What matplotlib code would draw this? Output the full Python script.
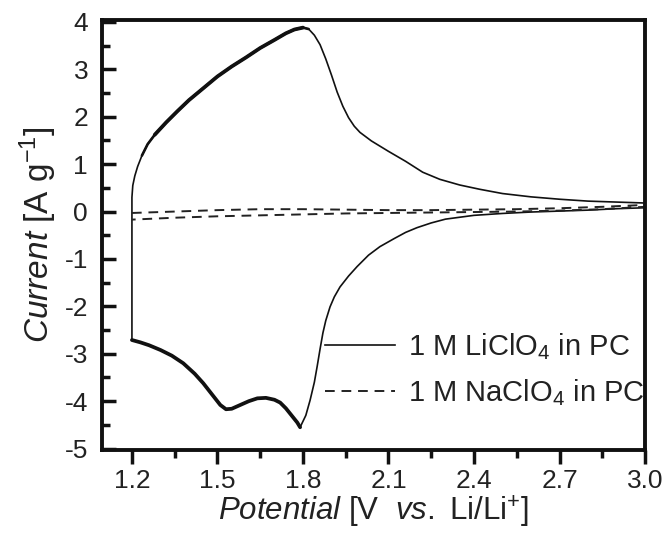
import matplotlib
matplotlib.use("Agg")
import numpy as np
import matplotlib.pyplot as plt
from matplotlib.ticker import MultipleLocator

# ------------------------------------------
# Cyclic voltammetry data
# ------------------------------------------

# 1 M LiClO4 in PC, anodic sweep (1.2 V -> 3.0 V)
li_ox_v = [1.200, 1.200, 1.203, 1.210, 1.220, 1.235, 1.255, 1.28, 1.32, 1.36,
           1.40, 1.45, 1.50, 1.55, 1.60, 1.65, 1.70, 1.74, 1.77, 1.80,
           1.82, 1.84, 1.86, 1.88, 1.90, 1.92, 1.94, 1.96, 1.98, 2.00,
           2.04, 2.10, 2.16, 2.22, 2.28, 2.35, 2.42, 2.50, 2.60, 2.70,
           2.80, 2.90, 3.00]
li_ox_i = [-2.71, 0.30, 0.55, 0.75, 0.95, 1.18, 1.42, 1.62, 1.88, 2.12,
           2.35, 2.60, 2.85, 3.06, 3.25, 3.45, 3.62, 3.76, 3.84, 3.88,
           3.85, 3.72, 3.52, 3.22, 2.88, 2.52, 2.22, 1.98, 1.80, 1.67,
           1.49, 1.27, 1.06, 0.83, 0.68, 0.56, 0.47, 0.38, 0.31, 0.26,
           0.22, 0.20, 0.18]

# 1 M LiClO4 in PC, cathodic sweep (3.0 V -> 1.2 V)
li_red_v = [3.00, 2.90, 2.80, 2.70, 2.60, 2.50, 2.40, 2.30, 2.25, 2.20,
            2.16, 2.12, 2.07, 2.03, 1.99, 1.96, 1.93, 1.91, 1.895, 1.88,
            1.87, 1.86, 1.85, 1.84, 1.825, 1.81, 1.79, 1.78, 1.76, 1.74,
            1.72, 1.70, 1.67, 1.64, 1.61, 1.58, 1.55, 1.53, 1.51, 1.48,
            1.45, 1.42, 1.38, 1.34, 1.30, 1.26, 1.23, 1.20]
li_red_i = [0.08, 0.06, 0.03, 0.01, -0.01, -0.04, -0.08, -0.16, -0.24, -0.34,
            -0.44, -0.57, -0.74, -0.92, -1.16, -1.36, -1.59, -1.80, -2.01, -2.30,
            -2.56, -2.90, -3.26, -3.60, -3.98, -4.30, -4.55, -4.45, -4.30, -4.15,
            -4.03, -3.97, -3.93, -3.94, -4.00, -4.08, -4.16, -4.17, -4.08, -3.85,
            -3.62, -3.42, -3.20, -3.04, -2.92, -2.82, -2.76, -2.71]

# 1 M NaClO4 in PC
na_ox_v = [1.20, 1.35, 1.50, 1.65, 1.80, 1.95, 2.10, 2.25, 2.40, 2.55, 2.70, 2.85, 3.00]
na_ox_i = [-0.03, 0.00, 0.03, 0.05, 0.05, 0.04, 0.03, 0.03, 0.04, 0.05, 0.07, 0.10, 0.14]
na_red_v = [3.00, 2.85, 2.70, 2.55, 2.40, 2.25, 2.10, 1.95, 1.80, 1.65, 1.50, 1.35, 1.20]
na_red_i = [0.10, 0.05, 0.02, 0.00, -0.01, -0.02, -0.03, -0.04, -0.06, -0.08, -0.10, -0.13, -0.17]

x_ticks = [1.2, 1.5, 1.8, 2.1, 2.4, 2.7, 3.0]
y_ticks = [4, 3, 2, 1, 0, -1, -2, -3, -4, -5]

# ------------------------------------------
# Style
# ------------------------------------------

plt.rcParams["font.family"] = ["Liberation Sans", "DejaVu Sans"]
plt.rcParams["mathtext.fontset"] = "custom"
plt.rcParams["mathtext.rm"] = "Liberation Sans"
plt.rcParams["mathtext.it"] = "Liberation Sans:italic"
plt.rcParams["font.size"] = 19
plt.rcParams["text.color"] = "#222222"
plt.rcParams["axes.labelcolor"] = "#222222"
plt.rcParams["xtick.color"] = "#111111"
plt.rcParams["ytick.color"] = "#111111"
plt.rcParams["xtick.labelcolor"] = "#222222"
plt.rcParams["ytick.labelcolor"] = "#222222"

fig = plt.figure(figsize=(6.68, 5.37), dpi=100)
ax = fig.add_axes([0.1527, 0.162, 0.8129, 0.8007])

# ------------------------------------------
# Curves
# ------------------------------------------

li_v = np.array(li_ox_v + li_red_v)
li_i = np.array(li_ox_i + li_red_i)
line_li, = ax.plot(li_v, li_i, color="#111111", lw=1.2, solid_joinstyle="round")

# noisier low-potential part of the loop looks heavier
ox_v = np.array(li_ox_v)
ox_i = np.array(li_ox_i)
m = (ox_v >= 1.235) & (ox_v <= 1.82) & (ox_i > 0)
ax.plot(ox_v[m], ox_i[m], color="#111111", lw=1.9, solid_capstyle="round")
m = (ox_v >= 1.28) & (ox_v <= 1.80) & (ox_i > 0)
ax.plot(ox_v[m], ox_i[m], color="#111111", lw=2.7, solid_capstyle="round")
red_v = np.array(li_red_v)
red_i = np.array(li_red_i)
m = red_v <= 1.79
ax.plot(red_v[m], red_i[m], color="#111111", lw=2.7, solid_capstyle="round")

na_v = np.array(na_ox_v + na_red_v)
na_i = np.array(na_ox_i + na_red_i)
line_na, = ax.plot(na_v, na_i, color="#222222", lw=1.4, dashes=(5, 3.5))

# ------------------------------------------
# Axes
# ------------------------------------------

ax.set_xlim(1.095, 3.0)
ax.set_ylim(-5.03, 4.04)

ax.set_xticks(x_ticks)
ax.set_xticklabels([f"{t:.1f}" for t in x_ticks])
ax.xaxis.set_minor_locator(MultipleLocator(0.15))
ax.set_yticks(y_ticks)
ax.set_yticklabels([str(t) for t in y_ticks])
ax.yaxis.set_minor_locator(MultipleLocator(0.5))

ax.tick_params(axis="x", which="major", direction="out", length=10, width=2.5, pad=4)
ax.tick_params(axis="x", which="minor", direction="out", length=6, width=2.5)
ax.tick_params(axis="y", which="major", direction="in", length=10, width=2.5, pad=10)
ax.tick_params(axis="y", which="minor", direction="in", length=6, width=2.5)

for s in ax.spines.values():
    s.set_linewidth(2.8)
    s.set_color("#111111")

ax.set_xlabel(r"$\it{Potential}$ [V  $\it{vs.}$ Li/Li$^{+}$]", fontsize=22.5, labelpad=0)
ax.set_ylabel(r"$\it{Current}$ [A g$^{-1}$]", fontsize=24, labelpad=4)

ax.legend([line_li, line_na],
          [r"1 M LiClO$_4$ in PC", r"1 M NaClO$_4$ in PC"],
          loc="upper left", bbox_to_anchor=(0.41, 0.276),
          frameon=False, borderpad=0, borderaxespad=0, fontsize=21,
          handlelength=2.4, handletextpad=0.45, labelspacing=0.5)

plt.savefig("out.png", dpi=100)
